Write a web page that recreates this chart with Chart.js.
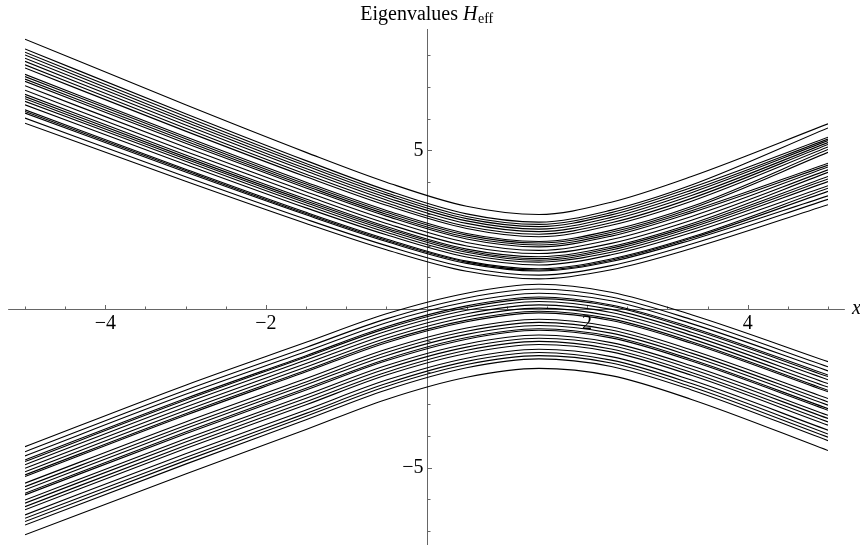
<!DOCTYPE html>
<html>
<head>
<meta charset="utf-8">
<script src="https://cdn.jsdelivr.net/npm/chart.js@4"></script>
<style>
  html, body { margin: 0; padding: 0; background: #fff; }
</style>
</head>
<body>
<canvas id="myChart" width="860" height="549"></canvas>
<script>
// x positions where each band of eigenvalues is sampled
var xs = [-5, -3, -1.5, -0.5, 0.5, 1.4, 2.3, 3.3, 5];

// upper band, one array per x position, levels sorted from top to bottom
var upperAtMinus5   = [8.51, 8.20, 8.10, 8.01, 7.91, 7.81, 7.70, 7.60, 7.40, 7.33, 7.25, 7.18, 7.04, 6.90, 6.77, 6.70, 6.63, 6.55, 6.44, 6.28, 6.23, 6.18, 6.02, 5.86];
var upperAtMinus3   = [6.44, 6.16, 6.07, 5.98, 5.90, 5.80, 5.70, 5.61, 5.43, 5.37, 5.30, 5.23, 5.10, 4.97, 4.86, 4.79, 4.73, 4.66, 4.56, 4.41, 4.37, 4.32, 4.17, 4.03];
var upperAtMinus1_5 = [4.94, 4.68, 4.59, 4.52, 4.43, 4.35, 4.25, 4.17, 4.00, 3.94, 3.88, 3.82, 3.70, 3.58, 3.47, 3.41, 3.35, 3.28, 3.19, 3.05, 3.01, 2.97, 2.83, 2.70];
var upperAtMinus0_5 = [4.00, 3.75, 3.67, 3.60, 3.52, 3.44, 3.35, 3.27, 3.11, 3.05, 2.99, 2.93, 2.82, 2.70, 2.60, 2.55, 2.49, 2.42, 2.34, 2.21, 2.17, 2.13, 2.00, 1.87];
var upperAt0_5      = [3.24, 3.00, 2.92, 2.85, 2.78, 2.70, 2.61, 2.54, 2.38, 2.33, 2.27, 2.21, 2.10, 1.99, 1.89, 1.84, 1.79, 1.72, 1.64, 1.51, 1.48, 1.44, 1.31, 1.19];
var upperAt1_4      = [2.98, 2.74, 2.67, 2.60, 2.52, 2.44, 2.36, 2.28, 2.13, 2.08, 2.02, 1.96, 1.85, 1.75, 1.65, 1.59, 1.54, 1.48, 1.39, 1.27, 1.23, 1.20, 1.07, 0.95];
var upperAt2_3      = [3.37, 3.12, 3.04, 2.97, 2.89, 2.81, 2.72, 2.64, 2.48, 2.42, 2.36, 2.30, 2.19, 2.07, 1.97, 1.92, 1.86, 1.79, 1.71, 1.58, 1.54, 1.50, 1.37, 1.24];
var upperAt3_3      = [4.18, 3.91, 3.83, 3.75, 3.67, 3.58, 3.49, 3.40, 3.23, 3.17, 3.10, 3.04, 2.92, 2.80, 2.69, 2.63, 2.57, 2.50, 2.41, 2.27, 2.23, 2.18, 2.05, 1.91];
var upperAt5        = [5.84, 5.71, 5.42, 5.36, 5.31, 5.25, 5.19, 5.11, 5.03, 4.94, 4.60, 4.54, 4.48, 4.39, 4.31, 4.18, 4.10, 4.02, 3.89, 3.81, 3.71, 3.57, 3.46, 3.29];

// lower band, same layout
var lowerAtMinus5   = [-4.34, -4.50, -4.63, -4.76, -4.81, -4.91, -5.02, -5.13, -5.23, -5.28, -5.49, -5.60, -5.70, -5.81, -5.86, -6.02, -6.12, -6.23, -6.33, -6.49, -6.60, -6.70, -6.81, -7.12];
var lowerAtMinus3   = [-2.40, -2.56, -2.69, -2.82, -2.87, -2.97, -3.09, -3.20, -3.30, -3.35, -3.56, -3.67, -3.77, -3.88, -3.93, -4.09, -4.19, -4.30, -4.40, -4.56, -4.68, -4.78, -4.89, -5.20];
var lowerAtMinus1_5 = [-1.05, -1.21, -1.34, -1.47, -1.51, -1.61, -1.72, -1.83, -1.93, -1.98, -2.19, -2.30, -2.39, -2.50, -2.55, -2.71, -2.81, -2.92, -3.02, -3.18, -3.29, -3.38, -3.49, -3.80];
var lowerAtMinus0_5 = [-0.15, -0.31, -0.43, -0.56, -0.61, -0.70, -0.81, -0.92, -1.01, -1.06, -1.27, -1.37, -1.47, -1.58, -1.63, -1.78, -1.88, -1.99, -2.08, -2.24, -2.35, -2.44, -2.55, -2.85];
var lowerAt0_5      = [0.50, 0.35, 0.22, 0.10, 0.05, -0.04, -0.15, -0.25, -0.35, -0.40, -0.60, -0.70, -0.80, -0.90, -0.95, -1.10, -1.20, -1.30, -1.40, -1.55, -1.65, -1.75, -1.85, -2.15];
var lowerAt1_4      = [0.78, 0.63, 0.50, 0.38, 0.33, 0.24, 0.13, 0.03, -0.07, -0.12, -0.32, -0.42, -0.52, -0.62, -0.67, -0.82, -0.92, -1.02, -1.12, -1.27, -1.37, -1.47, -1.57, -1.87];
var lowerAt2_3      = [0.53, 0.38, 0.26, 0.13, 0.09, -0.01, -0.11, -0.22, -0.31, -0.36, -0.56, -0.66, -0.76, -0.86, -0.91, -1.06, -1.15, -1.26, -1.35, -1.50, -1.61, -1.70, -1.81, -2.10];
var lowerAt3_3      = [-0.18, -0.33, -0.46, -0.58, -0.63, -0.73, -0.83, -0.94, -1.03, -1.08, -1.29, -1.39, -1.49, -1.59, -1.64, -1.79, -1.89, -2.00, -2.09, -2.24, -2.35, -2.45, -2.55, -2.85];
var lowerAt5        = [-1.66, -1.82, -1.95, -2.08, -2.13, -2.23, -2.35, -2.46, -2.56, -2.61, -2.82, -2.93, -3.03, -3.14, -3.19, -3.35, -3.45, -3.56, -3.66, -3.82, -3.94, -4.04, -4.15, -4.46];

var upperSlices = [upperAtMinus5, upperAtMinus3, upperAtMinus1_5, upperAtMinus0_5, upperAt0_5, upperAt1_4, upperAt2_3, upperAt3_3, upperAt5];
var lowerSlices = [lowerAtMinus5, lowerAtMinus3, lowerAtMinus1_5, lowerAtMinus0_5, lowerAt0_5, lowerAt1_4, lowerAt2_3, lowerAt3_3, lowerAt5];

// axis ticks
var xMajorTicks = [-4, -2, 2, 4];
var yMajorTicks = [-5, 5];

// one dataset per eigenvalue branch
var datasets = [];
[upperSlices, lowerSlices].forEach(function (slices) {
    for (var i = 0; i < slices[0].length; i++) {
        datasets.push({
            data: xs.map(function (x, k) { return { x: x, y: slices[k][i] }; })
        });
    }
});

var FONT = '"Liberation Serif", "DejaVu Serif", serif';

// axes crossing at the origin, ticks and labels drawn by hand
var crossAxes = {
    id: 'crossAxes',
    beforeDatasetsDraw: function (chart) {
        var ctx = chart.ctx;
        var sx = chart.scales.x, sy = chart.scales.y;
        var x0 = sx.getPixelForValue(0), y0 = sy.getPixelForValue(0);
        ctx.save();
        ctx.strokeStyle = '#666';
        ctx.lineWidth = 1;
        ctx.beginPath();
        ctx.moveTo(sx.getPixelForValue(-5.21), Math.round(y0) + 0.5);
        ctx.lineTo(sx.getPixelForValue(5.21), Math.round(y0) + 0.5);
        ctx.moveTo(Math.round(x0) + 0.5, chart.chartArea.top);
        ctx.lineTo(Math.round(x0) + 0.5, chart.chartArea.bottom);
        ctx.stroke();

        // x ticks every 0.5, pointing up
        ctx.beginPath();
        for (var v = -5; v <= 5.001; v += 0.5) {
            if (Math.abs(v) < 1e-9) continue;
            var px = Math.round(sx.getPixelForValue(v)) + 0.5;
            var len = xMajorTicks.indexOf(v) >= 0 ? 4 : 2.5;
            ctx.moveTo(px, Math.round(y0));
            ctx.lineTo(px, Math.round(y0) - len);
        }
        // y ticks every 1, pointing right
        for (var w = -7; w <= 8; w++) {
            if (w === 0) continue;
            var py = Math.round(sy.getPixelForValue(w)) + 0.5;
            var l2 = yMajorTicks.indexOf(w) >= 0 ? 4 : 2.5;
            ctx.moveTo(Math.round(x0) + 1, py);
            ctx.lineTo(Math.round(x0) + 1 + l2, py);
        }
        ctx.stroke();

        ctx.fillStyle = '#000';
        ctx.font = '20px ' + FONT;
        ctx.textAlign = 'center';
        ctx.textBaseline = 'top';
        xMajorTicks.forEach(function (t) {
            ctx.fillText((t < 0 ? '\u2212' : '') + Math.abs(t), sx.getPixelForValue(t), y0 + 5);
        });
        ctx.textAlign = 'right';
        ctx.textBaseline = 'middle';
        yMajorTicks.forEach(function (t) {
            ctx.fillText((t < 0 ? '\u2212' : '') + Math.abs(t), x0 - 3, sy.getPixelForValue(t));
        });

        // axis label
        ctx.textAlign = 'left';
        ctx.font = 'italic 20px ' + FONT;
        ctx.fillText('x', 852, y0);

        // title: Eigenvalues H_eff
        var main = 'Eigenvalues ';
        ctx.font = '20px ' + FONT;
        var w1 = ctx.measureText(main).width;
        ctx.font = 'italic 20px ' + FONT;
        var w2 = ctx.measureText('H').width;
        ctx.font = '14px ' + FONT;
        var w3 = ctx.measureText('eff').width;
        var left = x0 - (w1 + w2 + w3) / 2;
        var base = 20;
        ctx.textBaseline = 'alphabetic';
        ctx.font = '20px ' + FONT;
        ctx.fillText(main, left, base);
        ctx.font = 'italic 20px ' + FONT;
        ctx.fillText('H', left + w1, base);
        ctx.font = '14px ' + FONT;
        ctx.fillText('eff', left + w1 + w2 + 0.5, base + 3);
        ctx.restore();
    }
};

var ctx = document.getElementById('myChart').getContext('2d');
var myChart = new Chart(ctx, {
    type: 'line',
    data: { datasets: datasets },
    options: {
        responsive: false,
        animation: false,
        layout: { padding: { left: 25, right: 32, top: 29, bottom: 4 } },
        scales: {
            x: { type: 'linear', min: -5, max: 5, display: false },
            y: { type: 'linear', min: -7.44, max: 8.83, display: false }
        },
        plugins: {
            legend: { display: false },
            tooltip: { enabled: false }
        },
        elements: {
            point: { radius: 0 },
            line: {
                borderColor: '#000',
                borderWidth: 1.1,
                cubicInterpolationMode: 'monotone'
            }
        }
    },
    plugins: [crossAxes]
});
</script>
</body>
</html>
